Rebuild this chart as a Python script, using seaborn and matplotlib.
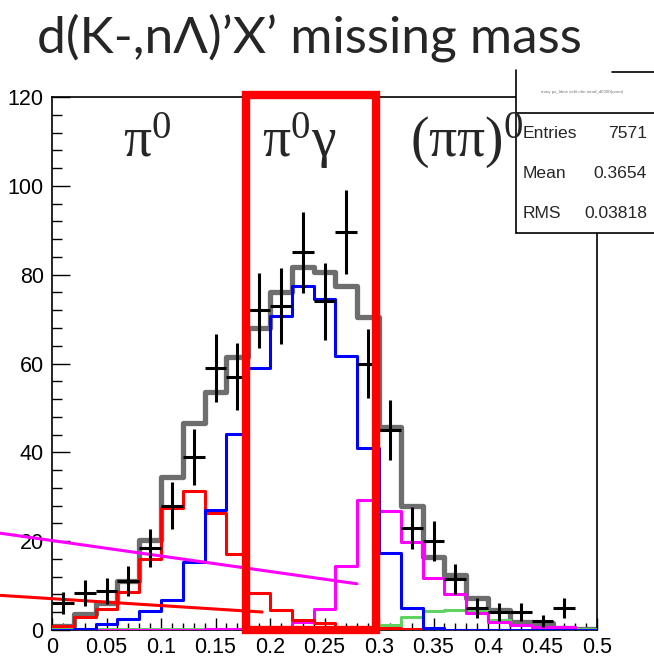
import numpy as np
import matplotlib
matplotlib.use("Agg")
import matplotlib.pyplot as plt
import seaborn as sns
from matplotlib.patches import Rectangle
from matplotlib.lines import Line2D
from matplotlib.ticker import MultipleLocator, FixedLocator

# ---- histogram content (25 bins of 0.02 GeV between 0 and 0.5) ----
bin_edges = [0.00, 0.02, 0.04, 0.06, 0.08, 0.10, 0.12, 0.14, 0.16, 0.18,
             0.20, 0.22, 0.24, 0.26, 0.28, 0.30, 0.32, 0.34, 0.36, 0.38,
             0.40, 0.42, 0.44, 0.46, 0.48, 0.50]
bin_centers = [0.01, 0.03, 0.05, 0.07, 0.09, 0.11, 0.13, 0.15, 0.17, 0.19,
               0.21, 0.23, 0.25, 0.27, 0.29, 0.31, 0.33, 0.35, 0.37, 0.39,
               0.41, 0.43, 0.45, 0.47, 0.49]

data_counts = [6.0, 8.3, 8.8, 11.0, 18.5, 28.0, 39.0, 59.0, 57.0, 72.0,
               73.0, 85.0, 74.0, 89.5, 60.0, 45.0, 23.0, 20.0, 11.5, 5.0,
               4.0, 4.0, 2.0, 5.0, 0.0]
total_fit = [1.0, 3.6, 6.0, 11.0, 20.3, 34.5, 46.5, 53.5, 61.4, 68.0,
             76.0, 81.7, 80.6, 77.4, 70.4, 45.8, 28.0, 16.5, 12.4, 7.2,
             4.5, 1.8, 1.6, 0.5, 0.3]
pi0_gamma = [0.0, 0.3, 1.4, 2.5, 4.3, 6.7, 15.2, 27.0, 44.2, 59.0,
             70.8, 77.4, 74.5, 61.6, 41.0, 17.4, 5.0, 0.5, 0.0, 0.0,
             0.0, 0.0, 0.0, 0.0, 0.0]
pi0 = [0.8, 3.0, 4.8, 8.6, 16.0, 27.5, 31.4, 26.4, 17.2, 8.4,
       4.5, 2.3, 1.6, 0.5, 0.5, 0.4, 0.3, 0.2, 0.0, 0.0,
       0.0, 0.0, 0.0, 0.0, 0.0]
pipi0 = [0.0, 0.0, 0.0, 0.0, 0.0, 0.0, 0.0, 0.2, 0.2, 0.2,
         0.3, 1.8, 4.7, 14.4, 29.3, 26.9, 19.9, 11.7, 8.2, 3.8,
         1.8, 1.1, 0.7, 0.7, 0.0]
other = [0.2, 0.2, 0.2, 0.2, 0.2, 0.2, 0.2, 0.2, 0.2, 0.2,
         0.2, 0.2, 0.2, 0.2, 0.2, 1.2, 2.9, 4.2, 4.5, 4.2,
         2.3, 1.1, 0.7, 0.5, 0.3]

# straight background lines (x, y end points)
magenta_line_x = [-0.0477, 0.2798]
magenta_line_y = [21.8, 10.4]
red_line_x = [-0.0477, 0.1927]
red_line_y = [7.8, 4.05]

# pi0 gamma selection window
window_lo, window_hi = 0.178, 0.297

x_tick_values = [0, 0.05, 0.1, 0.15, 0.2, 0.25, 0.3, 0.35, 0.4, 0.45, 0.5]
x_tick_labels = ["0", "0.05", "0.1", "0.15", "0.2", "0.25", "0.3", "0.35",
                 "0.4", "0.45", "0.5"]
y_tick_values = [0, 20, 40, 60, 80, 100, 120]

channel_labels = [r"$\mathrm{\pi}^{0}$", r"$\mathrm{\pi}^{0}\mathrm{\gamma}$",
                  r"$\mathrm{(\pi\pi)}^{0}$"]
channel_label_x = [0.065, 0.193, 0.328]

stats_names = ["Entries", "Mean", "RMS"]
stats_values = ["7571", "0.3654", "0.03818"]

# ---- figure ----
sns.set_theme(style="white")
plt.rcParams["font.family"] = ["Liberation Sans", "DejaVu Sans"]
plt.rcParams["mathtext.fontset"] = "custom"
plt.rcParams["mathtext.rm"] = "Liberation Serif"
plt.rcParams["mathtext.it"] = "Liberation Serif:italic"
plt.rcParams["mathtext.bf"] = "Liberation Serif:bold"

W, H = 654, 664
fig = plt.figure(figsize=(W / 100, H / 100), dpi=100)
fig.patch.set_facecolor("white")
ax = fig.add_axes([52 / W, 34 / H, 545 / W, 533 / H])
ax.set_facecolor("white")

hist_kw = dict(bins=bin_edges, element="step", fill=False, ax=ax)
sns.histplot(x=bin_centers, weights=total_fit, color="#6e6e6e", linewidth=3.8, zorder=2, **hist_kw)
sns.histplot(x=bin_centers, weights=other, color="#5fd35f", linewidth=2.2, zorder=3, **hist_kw)
sns.histplot(x=bin_centers, weights=pipi0, color="#ff00ff", linewidth=2.2, zorder=3, **hist_kw)
sns.histplot(x=bin_centers, weights=pi0, color="#ff0000", linewidth=2.2, zorder=3, **hist_kw)
sns.histplot(x=bin_centers, weights=pi0_gamma, color="#0000ff", linewidth=2.2, zorder=3, **hist_kw)

sns.lineplot(x=magenta_line_x, y=magenta_line_y, color="#ff00ff", linewidth=2.2,
             ax=ax, clip_on=False, zorder=4)
sns.lineplot(x=red_line_x, y=red_line_y, color="#ff0000", linewidth=2.2,
             ax=ax, clip_on=False, zorder=4)

# data points with Poisson errors
cnt = np.array(data_counts)
shown = cnt > 0
ax.errorbar(np.array(bin_centers)[shown], cnt[shown], xerr=0.01,
            yerr=np.sqrt(cnt[shown]), fmt="none", ecolor="black",
            elinewidth=2.2, capsize=0, zorder=5)

# selection window
ax.add_patch(Rectangle((window_lo, 0), window_hi - window_lo, 120.4,
                       fill=False, edgecolor="#ff0000", linewidth=6,
                       clip_on=False, zorder=8))

ax.set_xlim(0, 0.5)
ax.set_ylim(0, 120)
ax.set_xlabel("")
ax.set_ylabel("")
ax.xaxis.set_major_locator(FixedLocator(x_tick_values))
ax.set_xticklabels(x_tick_labels)
ax.xaxis.set_minor_locator(MultipleLocator(0.01))
ax.yaxis.set_major_locator(FixedLocator(y_tick_values))
ax.yaxis.set_minor_locator(MultipleLocator(4))
ax.tick_params(axis="both", which="both", direction="in", colors="black",
               labelsize=15.5, width=1.0)
ax.tick_params(axis="x", which="major", length=9, pad=5, bottom=True)
ax.tick_params(axis="x", which="minor", length=5, bottom=True)
ax.tick_params(axis="y", which="major", length=13, pad=6, left=True)
ax.tick_params(axis="y", which="minor", length=7, left=True)
for s in ax.spines.values():
    s.set_color("black")
    s.set_linewidth(1.2)

# decay channel labels
for lbl, lx in zip(channel_labels, channel_label_x):
    ax.text(lx, 106.5, lbl, fontsize=40, ha="left", va="baseline", zorder=12)

# statistics box
bx0, by_top, by_sep, by_bot = 516, 70, 113, 233
ax.add_patch(Rectangle((bx0 / W, 1 - by_bot / H), (W + 5 - bx0) / W, (by_bot - by_top) / H,
                       transform=fig.transFigure, facecolor="white", edgecolor="none",
                       clip_on=False, zorder=10))
for (xa, ya, xb, yb) in [(bx0, by_top, bx0, by_bot), (bx0, by_sep, W, by_sep),
                         (bx0, by_bot, W, by_bot), (612, 72, W, 72)]:
    ax.add_line(Line2D([xa / W, xb / W], [1 - ya / H, 1 - yb / H], transform=fig.transFigure,
                       color="black", linewidth=1.2, clip_on=False, zorder=11))
ax.text(582 / W, 1 - 92 / H, "mmy px_ldms ecfit cfm mmd_d0000(norm)", transform=fig.transFigure,
        fontsize=3.2, color="#777777", ha="center", va="center", zorder=11)
for i, (nm, val) in enumerate(zip(stats_names, stats_values)):
    yy = 1 - (133 + 40.5 * i) / H
    ax.text(523 / W, yy, nm, transform=fig.transFigure, fontsize=12.6,
            ha="left", va="center", zorder=11)
    ax.text(647 / W, yy, val, transform=fig.transFigure, fontsize=12.6,
            ha="right", va="center", zorder=11)

fig.text(309 / W, 1 - 38 / H, "d(K-,nΛ)’X’ missing mass", fontsize=37,
         family=["Lato", "DejaVu Sans"], ha="center", va="center")

fig.savefig("out.png", dpi=100, facecolor="white")
